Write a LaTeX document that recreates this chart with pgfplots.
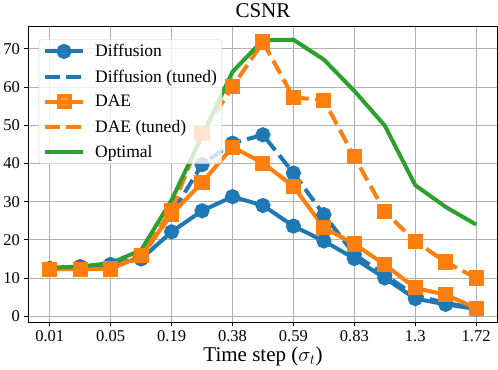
\documentclass[border=0pt]{standalone}
\usepackage{pgfplots}
\pgfplotsset{compat=1.18}
\usepackage{fontspec}
\setmainfont{Liberation Serif}
\definecolor{tblue}{HTML}{1F77B4}
\definecolor{torange}{HTML}{FF7F0E}
\definecolor{tgreen}{HTML}{2CA02C}
\begin{document}
\begin{tikzpicture}
\begin{axis}[
  scale only axis,
  width=467bp, height=295bp,
  xmin=-0.7, xmax=14.7,
  ymin=-1.6, ymax=76,
  xtick={0,2,4,6,8,10,12,14},
  xticklabels={0.01,0.05,0.19,0.38,0.59,0.83,1.3,1.72},
  ytick={0,10,20,30,40,50,60,70},
  tick pos=left,
  tick align=outside,
  major tick length=4bp,
  grid=major,
  grid style={draw=black!31, line width=1bp},
  axis line style={line width=0.9bp},
  every tick/.style={black, line width=0.9bp},
  /pgf/number format/assume math mode=true,
  ticklabel style={font=\fontsize{16.5}{20}\selectfont},
  xticklabel style={yshift=-1bp},
  yticklabel style={xshift=-1bp},
  title={CSNR},
  title style={font=\fontsize{21}{25}\selectfont, yshift=-1bp},
  xlabel={Time step ($\sigma_t$)},
  xlabel style={font=\fontsize{21}{25}\selectfont, yshift=2bp},
  legend style={at={(rel axis cs:0.022,0.955)}, anchor=north west,
    font=\fontsize{17.5}{21}\selectfont,
    draw=black!20, rounded corners=3bp, fill=white, fill opacity=0.8, text opacity=1,
    inner xsep=3bp, inner ysep=3bp, row sep=7.5bp, cells={anchor=west}},
  legend image code/.code={\draw[mark repeat=2,mark phase=2,#1] plot coordinates {(0bp,0bp) (19bp,0bp) (38bp,0bp)}; \path (-1bp,0bp) (46bp,0bp);},
  every axis plot/.append style={line width=4bp},
]
\addplot[tblue, mark=*, mark size=5.5bp, mark options={solid}] coordinates {
(0,12.5) (1,12.8) (2,13.5) (3,15.0) (4,22.1) (5,27.6) (6,31.3) (7,29.0) (8,23.6) (9,19.7) (10,15.1) (11,10.0) (12,4.6) (13,3.1) (14,1.9)};
\addlegendentry{Diffusion}
\addplot[tblue, dash pattern=on 14.8bp off 6.4bp, mark=*, mark size=5.5bp, mark options={solid}, forget plot] coordinates {
(0,12.5) (1,13.0) (2,13.5) (3,15.5) (4,26.8) (5,39.7) (6,45.3) (7,47.5) (8,37.5) (9,26.6) (10,16.2) (11,10.8) (12,5.4) (13,3.5) (14,2.0)};
\addlegendimage{tblue, line width=4bp, dash pattern=on 14.8bp off 6.4bp}
\addlegendentry{Diffusion (tuned)}
\addplot[torange, mark=square*, mark size=5.5bp, mark options={solid}] coordinates {
(0,12.3) (1,12.3) (2,12.3) (3,15.8) (4,26.7) (5,35.0) (6,44.3) (7,40.1) (8,34.0) (9,23.2) (10,18.9) (11,13.5) (12,7.4) (13,5.6) (14,2.1)};
\addlegendentry{DAE}
\addplot[torange, dash pattern=on 14.8bp off 6.4bp, mark=square*, mark size=5.5bp, mark options={solid}, forget plot] coordinates {
(0,12.3) (1,12.3) (2,12.5) (3,16.0) (4,27.8) (5,47.8) (6,60.1) (7,71.8) (8,57.3) (9,56.6) (10,41.7) (11,27.4) (12,19.6) (13,14.2) (14,10.0)};
\addlegendimage{torange, line width=4bp, dash pattern=on 14.8bp off 6.4bp}
\addlegendentry{DAE (tuned)}
\addplot[tgreen] coordinates {
(0,12.7) (1,13.0) (2,13.9) (3,17.3) (4,30.4) (5,47.2) (6,64.0) (7,72.3) (8,72.4) (9,67.2) (10,59.0) (11,49.9) (12,34.3) (13,28.6) (14,24.0)};
\addlegendentry{Optimal}
\end{axis}
\end{tikzpicture}
\end{document}
